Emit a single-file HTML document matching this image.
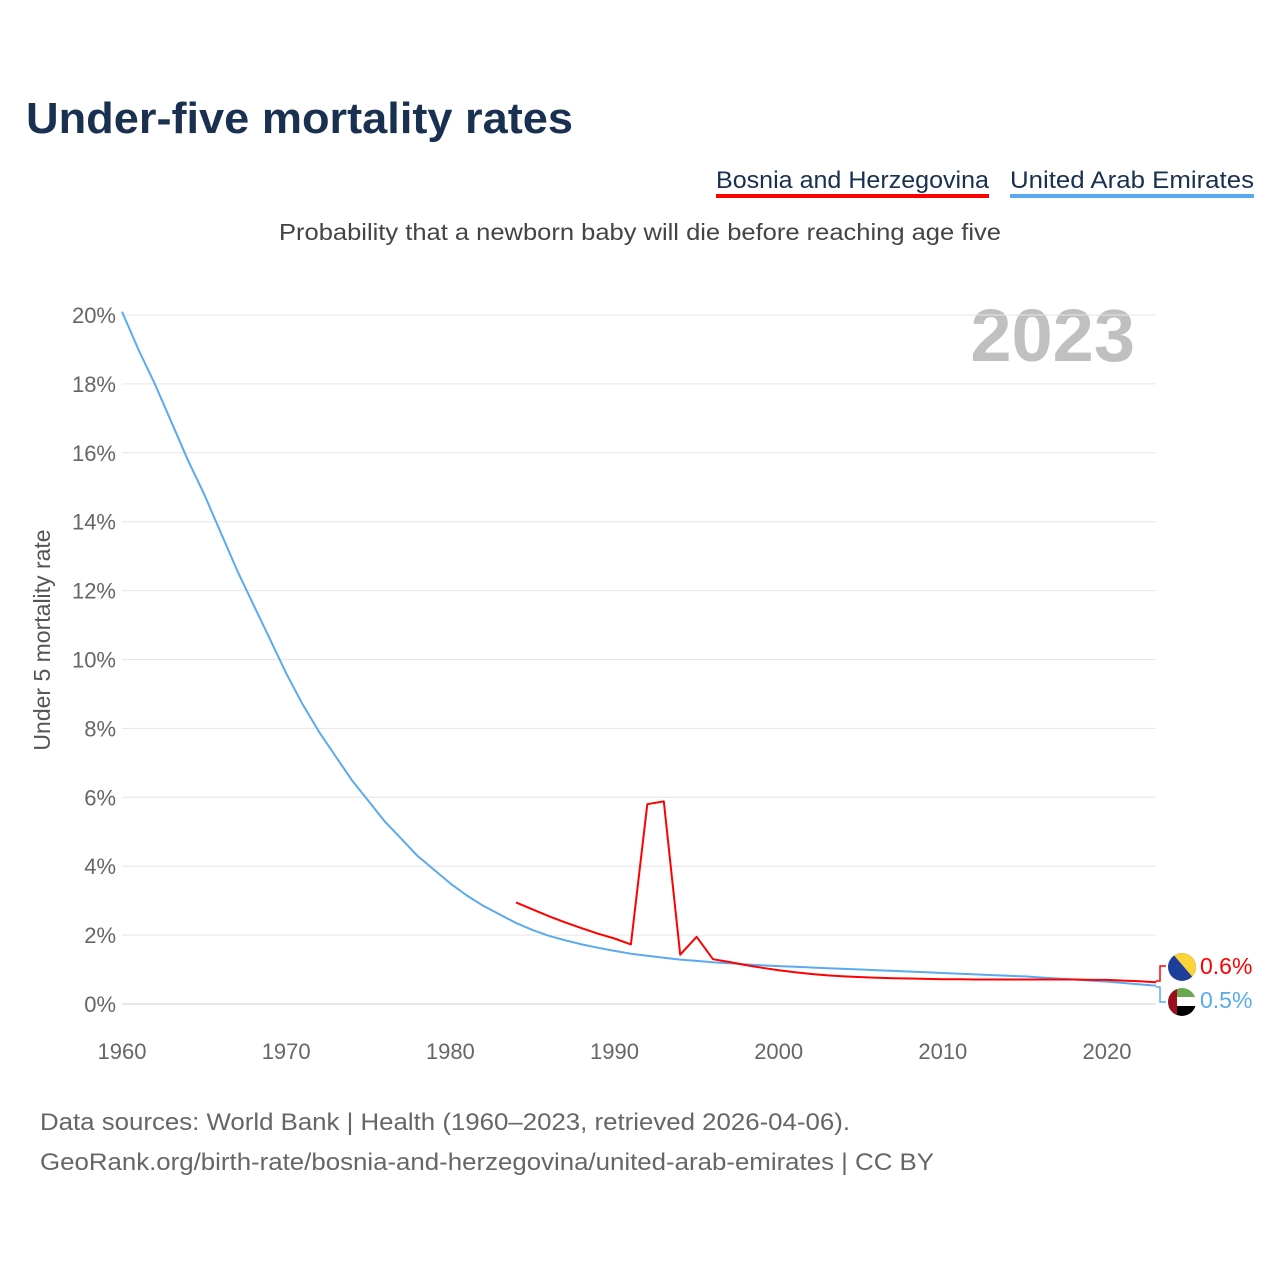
<!DOCTYPE html>
<html><head><meta charset="utf-8">
<style>
body{margin:0;background:#fff;font-family:"Liberation Sans",sans-serif;}
svg text{font-family:"Liberation Sans",sans-serif;}
</style></head>
<body>
<svg id="chart" width="1280" height="1280" xmlns="http://www.w3.org/2000/svg">
<text x="26" y="133" font-size="44" font-weight="bold" fill="#1a3050" textLength="547" lengthAdjust="spacingAndGlyphs">Under-five mortality rates</text>
<g>
<text x="716" y="188" font-size="24" fill="#1a3050" textLength="273" lengthAdjust="spacingAndGlyphs">Bosnia and Herzegovina</text>
<rect x="716" y="194" width="273" height="4" fill="#ff0000"/></g>
<g>
<text x="1010" y="188" font-size="24" fill="#1a3050" textLength="244" lengthAdjust="spacingAndGlyphs">United Arab Emirates</text>
<rect x="1010" y="194" width="244" height="4" fill="#5aaaf0"/></g>
<text x="279" y="240" font-size="23" fill="#444" textLength="722" lengthAdjust="spacingAndGlyphs">Probability that a newborn baby will die before reaching age five</text>
<text x="1135" y="361" font-size="74" font-weight="bold" fill="#c0c0c0" text-anchor="end">2023</text>
<text transform="translate(50,640) rotate(-90)" font-size="23" fill="#555" text-anchor="middle">Under 5 mortality rate</text>
<g id="grid"></g><g id="xt"></g><g id="lines"></g>
<g>
<polyline points="1156,981 1160,981 1160,966 1166,966" fill="none" stroke="#ff0000" stroke-width="1.5"/>
<polyline points="1156,987 1160,987 1160,1002 1166,1002" fill="none" stroke="#5aaaf0" stroke-width="1.5"/>
<clipPath id="c1"><circle cx="1182" cy="967" r="14"/></clipPath>
<g clip-path="url(#c1)"><rect x="1168" y="953" width="28" height="28" fill="#1d3f9a"/><polygon points="1172,953 1196,953 1196,981" fill="#fdd33a"/></g>
<clipPath id="c2"><circle cx="1182" cy="1002" r="14"/></clipPath>
<g clip-path="url(#c2)"><rect x="1168" y="988" width="28" height="10" fill="#6aa84f"/><rect x="1168" y="997" width="28" height="10" fill="#fff"/><rect x="1168" y="1006" width="28" height="10" fill="#000"/><rect x="1168" y="988" width="9" height="28" fill="#9b0f1f"/></g>
<text x="1200" y="974" font-size="23" fill="#ff0000">0.6%</text>
<text x="1200" y="1008" font-size="23" fill="#5aaaf0">0.5%</text>
</g>
<text x="40" y="1130" font-size="24" fill="#666" textLength="810" lengthAdjust="spacingAndGlyphs">Data sources: World Bank | Health (1960–2023, retrieved 2026-04-06).</text>
<text x="40" y="1170" font-size="24" fill="#666" textLength="894" lengthAdjust="spacingAndGlyphs">GeoRank.org/birth-rate/bosnia-and-herzegovina/united-arab-emirates | CC BY</text>
</svg>
<script>
const yTicks=[0,2,4,6,8,10,12,14,16,18,20];
const xTicks=[1960,1970,1980,1990,2000,2010,2020];
const uaeStart=1960;
const uaeValues=[20.1,19.0,18.0,16.9,15.8,14.8,13.7,12.6,11.6,10.6,9.6,8.7,7.9,7.2,6.5,5.9,5.3,4.8,4.3,3.9,3.5,3.15,2.85,2.6,2.35,2.15,1.98,1.85,1.73,1.63,1.54,1.46,1.40,1.34,1.29,1.25,1.21,1.18,1.15,1.12,1.10,1.08,1.06,1.04,1.02,1.0,0.98,0.96,0.94,0.92,0.90,0.88,0.86,0.84,0.82,0.80,0.77,0.74,0.71,0.68,0.65,0.61,0.57,0.53];
const bihStart=1984;
const bihValues=[2.95,2.75,2.55,2.37,2.2,2.04,1.9,1.73,5.8,5.88,1.43,1.95,1.3,1.22,1.13,1.05,0.98,0.92,0.87,0.83,0.8,0.78,0.76,0.75,0.74,0.73,0.72,0.72,0.71,0.71,0.71,0.71,0.71,0.71,0.71,0.7,0.7,0.68,0.66,0.63];
const NS="http://www.w3.org/2000/svg";
const X=y=>122+(y-1960)*(1107-122)/60;
const Y=v=>1004-v*(1004-315)/20;
function mk(t,a,p){const e=document.createElementNS(NS,t);for(const k in a)e.setAttribute(k,a[k]);p.appendChild(e);return e;}
const g=document.getElementById('grid');
yTicks.forEach(t=>{
 const l=mk('line',{x1:122,x2:1156,y1:Y(t),y2:Y(t),stroke:t===0?'#d0d0d0':'#e6e6e6','stroke-width':1},g);
 
 
 const tx=mk('text',{x:116,y:Y(t)+8,'font-size':22,fill:'#666','text-anchor':'end'},g);
 tx.textContent=t+'%';
 
 
});
const xt=document.getElementById('xt');
xTicks.forEach(t=>{
 const tx=mk('text',{x:X(t),y:1059,'font-size':22,fill:'#666','text-anchor':'middle'},xt);
 tx.textContent=t;
 
 
});
const lg=document.getElementById('lines');
function line(vals,start,col,name){
 const pts=vals.map((v,i)=>X(start+i).toFixed(1)+','+Y(v).toFixed(1)).join(' ');
 const p=mk('polyline',{points:pts,fill:'none',stroke:col,'stroke-width':2,'stroke-linejoin':'round'},lg);
 
 
}
line(uaeValues,uaeStart,'#5aaaf0','uae-line');
line(bihValues,bihStart,'#ff0000','bosnia-line');
</script>
</body></html>
